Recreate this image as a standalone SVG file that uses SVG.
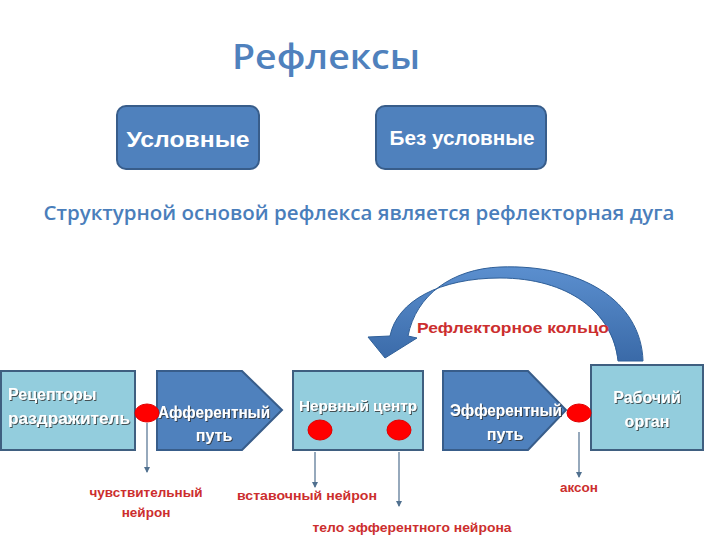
<svg xmlns="http://www.w3.org/2000/svg" width="720" height="540" viewBox="0 0 720 540">
<defs>
<style>
.blue{fill:#4f81bd;stroke:#385d8a;stroke-width:2}
.light{fill:#93cddd;stroke:#3f5f80;stroke-width:2}
.wt{fill:#fff;font-family:"Liberation Sans",Arial,sans-serif;font-weight:bold;text-anchor:middle}
.sh{filter:url(#ds)}
.red{fill:#cc2e2e;font-family:"Liberation Sans",Arial,sans-serif;font-weight:bold;font-size:13.5px;text-anchor:middle}
.dot{fill:#ff0000;stroke:#e00000}
.ln{stroke:#50708f;stroke-width:1.2;fill:none;marker-end:url(#ah)}
</style>
<filter id="ds" x="-10%" y="-20%" width="130%" height="150%">
<feDropShadow dx="1" dy="1" stdDeviation="0.6" flood-color="#333" flood-opacity="0.8"/>
</filter>
<marker id="ah" markerWidth="6" markerHeight="6" refX="5" refY="3" orient="auto" markerUnits="userSpaceOnUse">
<path d="M0,0 L6,3 L0,6 z" fill="#50708f"/>
</marker>
<linearGradient id="ag" x1="0" y1="0" x2="0" y2="1">
<stop offset="0" stop-color="#5b8fcf"/>
<stop offset="1" stop-color="#3a6aa8"/>
</linearGradient>
</defs>
<rect width="720" height="540" fill="#fff"/>
<text x="326" y="69" font-family="'Open Sans',sans-serif" font-weight="600" font-size="34" fill="#4f81bd" text-anchor="middle" textLength="188" lengthAdjust="spacingAndGlyphs">Рефлексы</text>
<g id="uslovnye">
<rect class="blue" x="117" y="106" width="142" height="63" rx="9"/>
<text class="wt" x="188" y="147" font-size="22" textLength="123" lengthAdjust="spacingAndGlyphs">Условные</text>
</g>
<g id="bezuslovnye">
<rect class="blue" x="376" y="106" width="170" height="63" rx="9"/>
<text class="wt" x="462" y="145" font-size="20" textLength="145" lengthAdjust="spacingAndGlyphs">Без условные</text>
</g>
<text x="359" y="220" font-family="'Open Sans',sans-serif" font-weight="600" font-size="19" fill="#4a7ebb" text-anchor="middle" textLength="631" lengthAdjust="spacingAndGlyphs">Структурной основой рефлекса является рефлекторная дуга</text>
<g id="ring">
<path d="M643,361 C641,300 580,264 500,267 C452,269 416,295 408,336 L417,338 L385,358 L368,337 L390,336 C397,301 440,278 500,278 C568,278 613,312 618,361 Z" fill="url(#ag)" stroke="#2f5f98" stroke-width="1"/>
<text x="513" y="333" fill="#cc2e2e" font-family="'Liberation Sans',Arial,sans-serif" font-weight="bold" font-size="15" text-anchor="middle" textLength="192" lengthAdjust="spacingAndGlyphs">Рефлекторное кольцо</text>
</g>
<g id="receptors">
<rect class="light" x="1" y="371" width="134" height="79"/>
<text class="wt sh" x="8" y="400" font-size="16" style="text-anchor:start">Рецепторы</text>
<text class="wt sh" x="8" y="424" font-size="16" style="text-anchor:start" textLength="122" lengthAdjust="spacingAndGlyphs">раздражитель</text>
</g>
<g id="afferent">
<polygon class="blue" points="157,371 242,371 282,410 242,450 157,450"/>
<text class="wt sh" x="214" y="418" font-size="16" textLength="112" lengthAdjust="spacingAndGlyphs">Афферентный</text>
<text class="wt sh" x="214" y="441" font-size="16">путь</text>
</g>
<g id="center">
<rect class="light" x="293" y="371" width="130" height="79"/>
<text class="wt sh" x="358" y="411" font-size="15" textLength="118" lengthAdjust="spacingAndGlyphs">Нервный центр</text>
<ellipse class="dot" cx="320" cy="430" rx="12" ry="10"/>
<ellipse class="dot" cx="399" cy="430" rx="12" ry="10"/>
</g>
<g id="efferent">
<polygon class="blue" points="443,371 528,371 566,410 528,450 443,450"/>
<text class="wt sh" x="506" y="416" font-size="16" textLength="112" lengthAdjust="spacingAndGlyphs">Эфферентный</text>
<text class="wt sh" x="505" y="440" font-size="16">путь</text>
</g>
<g id="organ">
<rect class="light" x="591" y="365" width="112" height="85"/>
<text class="wt sh" x="647" y="403" font-size="16">Рабочий</text>
<text class="wt sh" x="647" y="427" font-size="16">орган</text>
</g>
<g id="dots">
<ellipse class="dot" cx="147" cy="413" rx="12" ry="9"/>
<ellipse class="dot" cx="579" cy="413" rx="12" ry="9"/>
</g>
<g id="connectors">
<line class="ln" x1="147" y1="423" x2="147" y2="472"/>
<line class="ln" x1="315" y1="452" x2="315" y2="487"/>
<line class="ln" x1="399" y1="452" x2="399" y2="506"/>
<line class="ln" x1="579" y1="432" x2="579" y2="477"/>
</g>
<g id="labels">
<text class="red" x="146" y="497" textLength="113" lengthAdjust="spacingAndGlyphs">чувствительный</text>
<text class="red" x="146" y="517">нейрон</text>
<text class="red" x="307" y="500" textLength="140" lengthAdjust="spacingAndGlyphs">вставочный нейрон</text>
<text class="red" x="412" y="532" textLength="199" lengthAdjust="spacingAndGlyphs">тело эфферентного нейрона</text>
<text class="red" x="579" y="492">аксон</text>
</g>
</svg>
